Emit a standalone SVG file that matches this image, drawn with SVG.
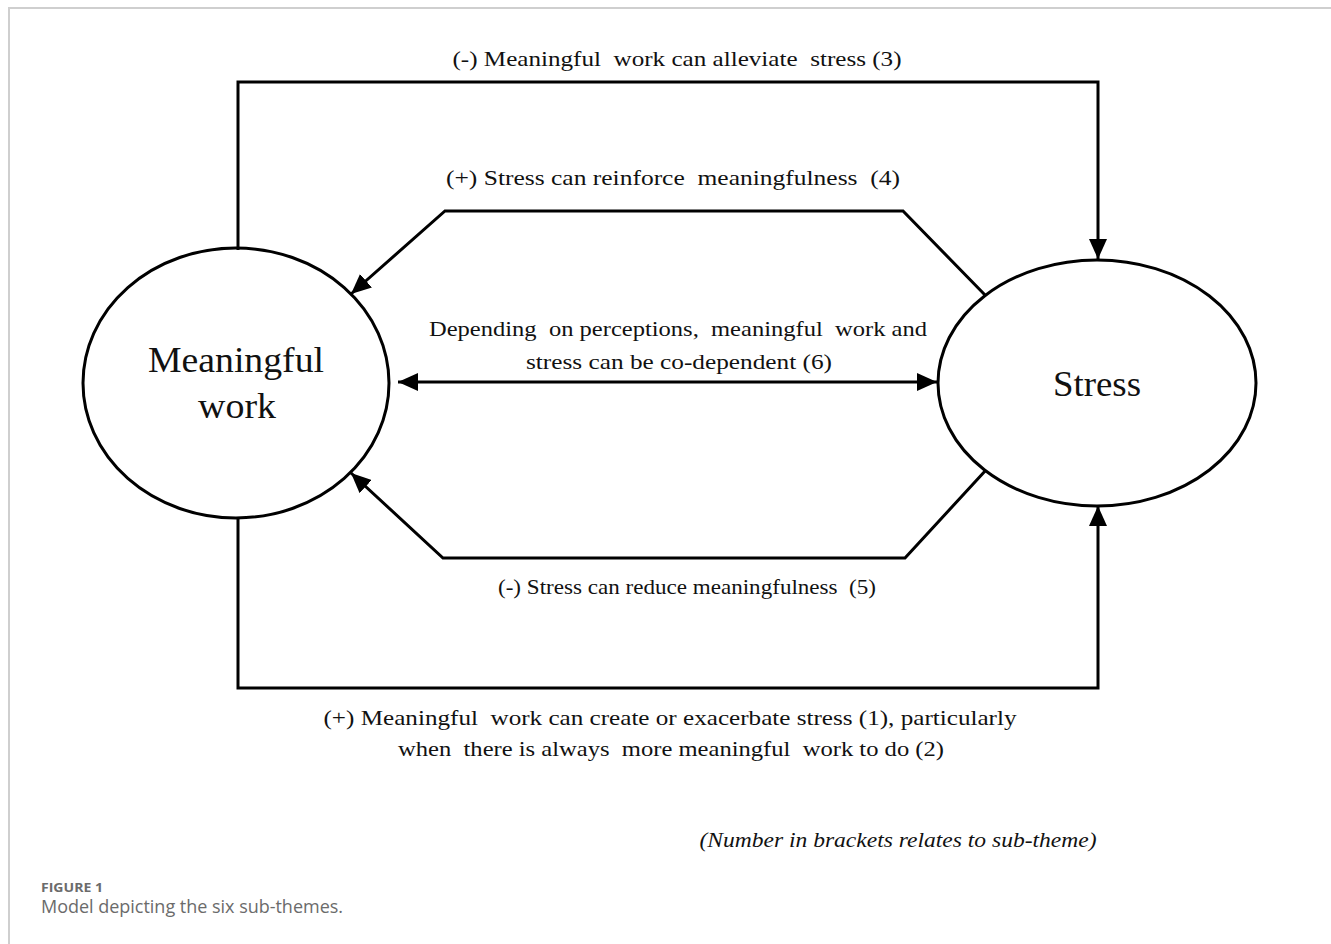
<svg xmlns="http://www.w3.org/2000/svg" width="1331" height="944" viewBox="0 0 1331 944">
<style>
.t{font-family:"Liberation Serif","Times New Roman",serif;fill:#111;text-anchor:middle}
.lbl{font-size:22px}
.node{font-size:35px}
.ln{fill:none;stroke:#000;stroke-width:3}
.cap{font-family:"Open Sans","Liberation Sans",sans-serif;fill:#6b6b6b}
</style>
<defs>
<marker id="ah" viewBox="0 0 20 18" refX="20" refY="9" markerWidth="20" markerHeight="18" markerUnits="userSpaceOnUse" orient="auto-start-reverse">
<path d="M0,0 L20,9 L0,18 Z" fill="#000"/>
</marker>
</defs>
<rect width="1331" height="944" fill="#fff"/>
<path d="M9,944 V8 H1331" fill="none" stroke="#cfcfcf" stroke-width="2"/>
<g id="connectors">
<path class="ln" d="M238,250 V82 H1098 V259" marker-end="url(#ah)"/>
<path class="ln" d="M986,296 L903,211 H445 L351,294" marker-end="url(#ah)"/>
<line class="ln" x1="398" y1="382" x2="937" y2="382" marker-start="url(#ah)" marker-end="url(#ah)"/>
<path class="ln" d="M986,470 L905,558 H443 L351,473" marker-end="url(#ah)"/>
<path class="ln" d="M238,518 V688 H1098 V506" marker-end="url(#ah)"/>
</g>
<g id="node-meaningful-work">
<ellipse class="ln" cx="236" cy="383" rx="153" ry="135"/>
<text class="t node" x="236" y="372" textLength="176" lengthAdjust="spacingAndGlyphs">Meaningful</text>
<text class="t node" x="237" y="418" textLength="78" lengthAdjust="spacingAndGlyphs">work</text>
</g>
<g id="node-stress">
<ellipse class="ln" cx="1097" cy="383" rx="159" ry="123"/>
<text class="t node" x="1097" y="396" textLength="88" lengthAdjust="spacingAndGlyphs">Stress</text>
</g>
<g id="labels">
<text class="t lbl" x="677" y="66" textLength="449" lengthAdjust="spacingAndGlyphs" xml:space="preserve">(-) Meaningful  work can alleviate  stress (3)</text>
<text class="t lbl" x="673" y="185" textLength="454" lengthAdjust="spacingAndGlyphs" xml:space="preserve">(+) Stress can reinforce  meaningfulness  (4)</text>
<text class="t lbl" x="678" y="336" textLength="498" lengthAdjust="spacingAndGlyphs" xml:space="preserve">Depending  on perceptions,  meaningful  work and</text>
<text class="t lbl" x="679" y="369" textLength="306" lengthAdjust="spacingAndGlyphs">stress can be co-dependent (6)</text>
<text class="t lbl" x="687" y="594" textLength="378" lengthAdjust="spacingAndGlyphs" xml:space="preserve">(-) Stress can reduce meaningfulness  (5)</text>
<text class="t lbl" x="670" y="725" textLength="693" lengthAdjust="spacingAndGlyphs" xml:space="preserve">(+) Meaningful  work can create or exacerbate stress (1), particularly</text>
<text class="t lbl" x="671" y="756" textLength="546" lengthAdjust="spacingAndGlyphs" xml:space="preserve">when  there is always  more meaningful  work to do (2)</text>
<text class="t lbl" x="898" y="847" font-style="italic" textLength="397" lengthAdjust="spacingAndGlyphs">(Number in brackets relates to sub-theme)</text>
</g>
<g id="caption">
<text class="cap" x="41" y="892" font-size="13" font-weight="bold" textLength="62" lengthAdjust="spacingAndGlyphs">FIGURE 1</text>
<text class="cap" x="41" y="913" font-size="18" textLength="302" lengthAdjust="spacing">Model depicting the six sub-themes.</text>
</g>
</svg>
